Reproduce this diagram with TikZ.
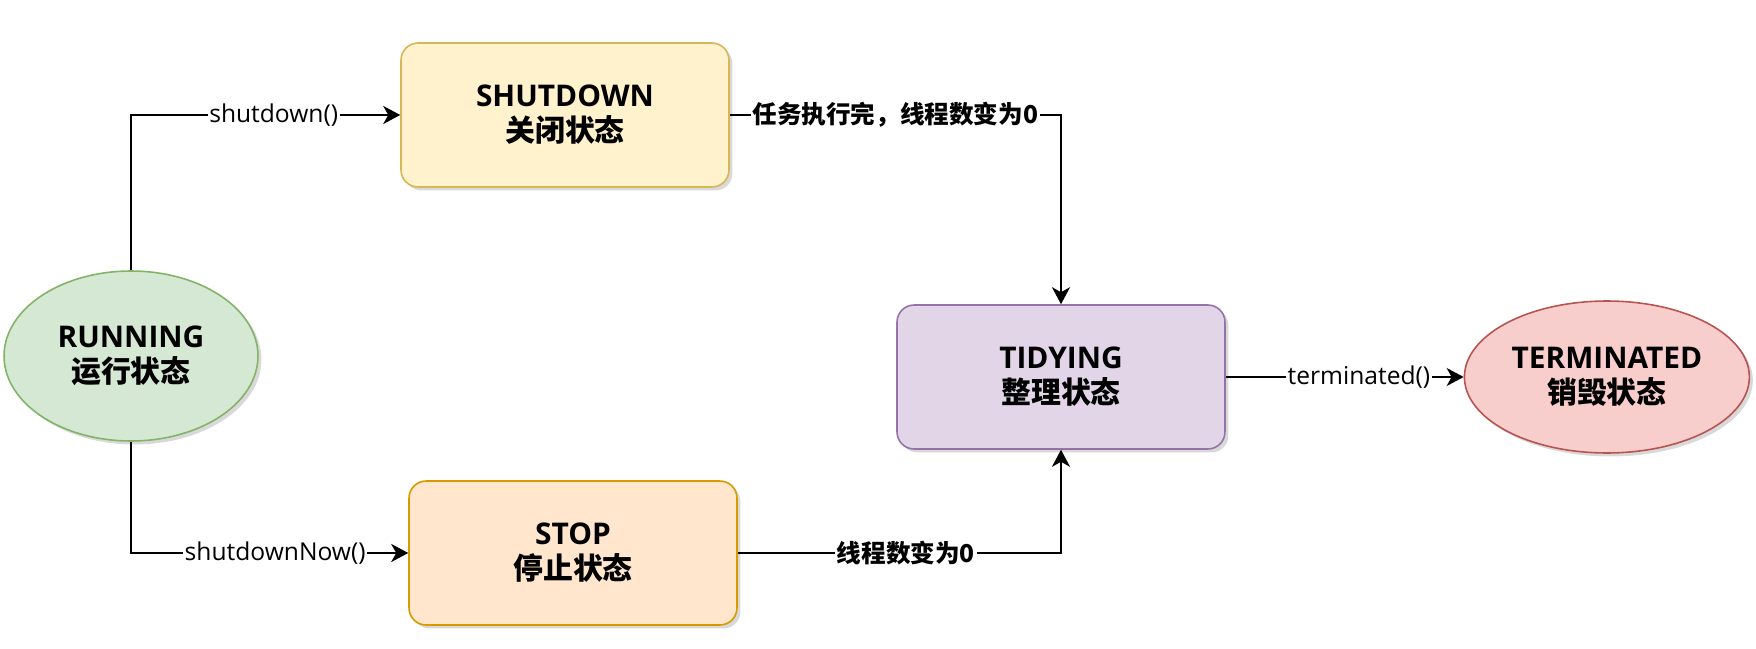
\documentclass[tikz,border=0pt]{standalone}
\usepackage{fontspec}
\setmainfont{Open Sans}
\newfontfamily\cjk{Noto Sans CJK SC}
\newcommand{\CN}[1]{{\cjk\bfseries #1}}
\usetikzlibrary{arrows.meta,shapes.geometric,shadows}

\definecolor{yellowF}{HTML}{FFF2CC}\definecolor{yellowD}{HTML}{D6B656}
\definecolor{orangeF}{HTML}{FFE6CC}\definecolor{orangeD}{HTML}{D79B00}
\definecolor{purpleF}{HTML}{E1D5E7}\definecolor{purpleD}{HTML}{9673A6}
\definecolor{greenF}{HTML}{D5E8D4}\definecolor{greenD}{HTML}{82B366}
\definecolor{redF}{HTML}{F8CECC}\definecolor{redD}{HTML}{B85450}

\begin{document}
\begin{tikzpicture}[x=0.02cm,y=-0.02cm]
			\tikzstyle{state} = [draw, line width=0.9pt, align=center,
				font=\fontsize{17}{20}\selectfont\bfseries,
				drop shadow={shadow xshift=0.07cm, shadow yshift=-0.07cm, opacity=0.3}]
			\tikzstyle{boxs} = [state, rounded corners=0.34cm,
				minimum width=6.56cm, minimum height=2.88cm]
			\tikzstyle{ovals} = [state, ellipse, inner sep=0pt]
			\tikzstyle{line} = [draw,-{Stealth[length=0.34cm, width=0.36cm, inset=0.1cm]},line width=1.2pt]
			\tikzstyle{lbl} = [fill=white, inner sep=1pt, font=\fontsize{14}{16}\selectfont]

			\useasboundingbox (0,0) rectangle (1756,649);

			\node(Running)[ovals, fill=greenF, draw=greenD,
				minimum width=5.08cm, minimum height=3.4cm] at (131,356) {RUNNING\\\CN{运行状态}};
			\node(Shutdown)[boxs, fill=yellowF, draw=yellowD] at (565,115) {SHUTDOWN\\\CN{关闭状态}};
			\node(Stop)[boxs, fill=orangeF, draw=orangeD] at (573,553) {STOP\\\CN{停止状态}};
			\node(Tidying)[boxs, fill=purpleF, draw=purpleD] at (1061,377) {TIDYING\\\CN{整理状态}};
			\tikzset{node distance = 10.92cm}
			\node(Terminated)[ovals, right of = Tidying, fill=redF, draw=redD,
				minimum width=5.7cm, minimum height=3.04cm] {TERMINATED\\\CN{销毁状态}};

			\draw[line] (Running.north) |- node[lbl, pos=0.765]{shutdown()} (Shutdown.west);
			\draw[line] (Running.south) |- node[lbl, pos=0.76]{shutdownNow()} (Stop.west);
			\draw[line] (Shutdown.east) -| node[lbl, pos=0.25]{\CN{任务执行完，线程数变为0}} (Tidying.north);
			\draw[line] (Stop.east) -| node[lbl, pos=0.26]{\CN{线程数变为0}} (Tidying.south);
			\draw[line] (Tidying.east) -- node[lbl, pos=0.56]{terminated()} (Terminated.west);

		\end{tikzpicture}
\end{document}
